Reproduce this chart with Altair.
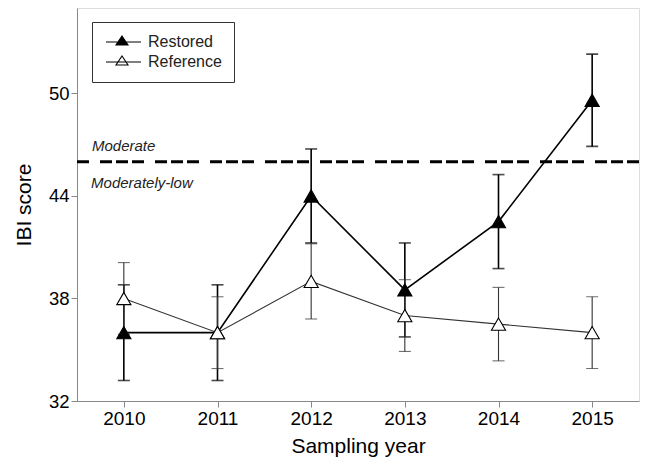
import altair as alt
import pandas as pd

years = [2010, 2011, 2012, 2013, 2014, 2015]
restored = [36.0, 36.0, 44.0, 38.5, 42.5, 49.6]
restored_err = [2.8, 2.8, 2.75, 2.75, 2.75, 2.7]
reference = [38.0, 36.0, 39.0, 37.0, 36.5, 36.0]
reference_err = [2.1, 2.1, 2.2, 2.1, 2.15, 2.1]
series_names = ["Restored", "Reference"]
threshold = [46.0]
zone_labels = ["Moderate", "Moderately-low"]
zone_label_x = [2009.66, 2009.65]
zone_label_y = [46.95, 44.75]

rows = []
for name, vals, errs in [("Restored", restored, restored_err), ("Reference", reference, reference_err)]:
    for yr, v, e in zip(years, vals, errs):
        rows.append({"series": name, "year": yr, "ibi": v, "lo": v - e, "hi": v + e})
df = pd.DataFrame(rows)
df_res = df[df.series == "Restored"]
df_ref = df[df.series == "Reference"]

FONT = "Arial, Liberation Sans"
xsc = alt.Scale(domain=[2009.5, 2015.5], nice=False, zero=False)
ysc = alt.Scale(domain=[32, 55], nice=False, zero=False)

X = alt.X("year:Q", scale=xsc,
          axis=alt.Axis(values=years, format="d", title="Sampling year", grid=False,
                        labelFontSize=19, titleFontSize=21, tickSize=6, labelPadding=2,
                        titlePadding=7, titleFontWeight="normal"))
Y = alt.Y("ibi:Q", scale=ysc,
          axis=alt.Axis(values=[32, 38, 44, 50], title="IBI score", grid=False,
                        labelFontSize=18.5, titleFontSize=21, tickSize=6, labelPadding=2,
                        titlePadding=14, titleFontWeight="normal"))

fill_scale = alt.Scale(domain=series_names, range=["black", "white"])
legend_path = "M-1.2,0H5.8M2,-1.2L3.2,0.6L0.8,0.6Z"

def layer_for(d, color, lw, capw):
    base = alt.Chart(d)
    line = base.mark_line(color=color, strokeWidth=lw).encode(x=X, y=Y)
    bar = base.mark_rule(color=color, strokeWidth=lw).encode(x="year:Q", y="lo:Q", y2="hi:Q")
    cap_lo = base.mark_tick(color=color, orient="horizontal", size=capw, thickness=lw).encode(x="year:Q", y="lo:Q")
    cap_hi = base.mark_tick(color=color, orient="horizontal", size=capw, thickness=lw).encode(x="year:Q", y="hi:Q")
    return line, bar, cap_lo, cap_hi

r_line, r_bar, r_lo, r_hi = layer_for(df_res, "black", 1.6, 12)
f_line, f_bar, f_lo, f_hi = layer_for(df_ref, "#333333", 1.1, 12)

points = alt.Chart(df).mark_point(shape="triangle-up", size=200, filled=True,
                                  stroke="black", strokeWidth=1.1, opacity=1).encode(
    x="year:Q", y="ibi:Q",
    fill=alt.Fill("series:N", scale=fill_scale,
                  legend=alt.Legend(title=None, orient="none", legendX=15, legendY=14,
                                    symbolType=legend_path, symbolSize=100,
                                    symbolStrokeColor="black", symbolStrokeWidth=1.1,
                                    labelFontSize=16, labelFont=FONT, labelColor="#222222",
                                    labelOffset=28, rowPadding=3, padding=12,
                                    strokeColor="#333333", fillColor="white")),
    order=alt.Order("order:Q"),
).transform_calculate(order="datum.series == 'Reference' ? 1 : 0")

thr = alt.Chart(pd.DataFrame({"t": threshold})).mark_rule(
    color="black", strokeWidth=3, strokeDash=[12, 4, 12, 4, 12, 11]).encode(y="t:Q")

ann = alt.Chart(pd.DataFrame({"label": zone_labels, "x": zone_label_x, "y": zone_label_y})).mark_text(
    align="left", baseline="middle", fontStyle="italic", fontSize=15, font=FONT, color="#222222"
).encode(x="x:Q", y="y:Q", text="label:N")

chart = alt.layer(
    thr, ann,
    f_line, r_line,
    r_bar, r_lo, r_hi,
    f_bar, f_lo, f_hi,
    points,
).properties(
    width=562, height=393,
    padding={"left": 5, "top": 0, "right": 0, "bottom": 3},
).configure_view(
    stroke="#444444", strokeWidth=1.5
).configure_axis(
    labelFont=FONT, titleFont=FONT, labelColor="#222222", titleColor="#222222",
    domainColor="#444444", tickColor="#444444", domainWidth=1.5, tickWidth=1.5
).configure(background="white")

chart.save("out.html", embed_options={"renderer": "svg", "actions": False})
